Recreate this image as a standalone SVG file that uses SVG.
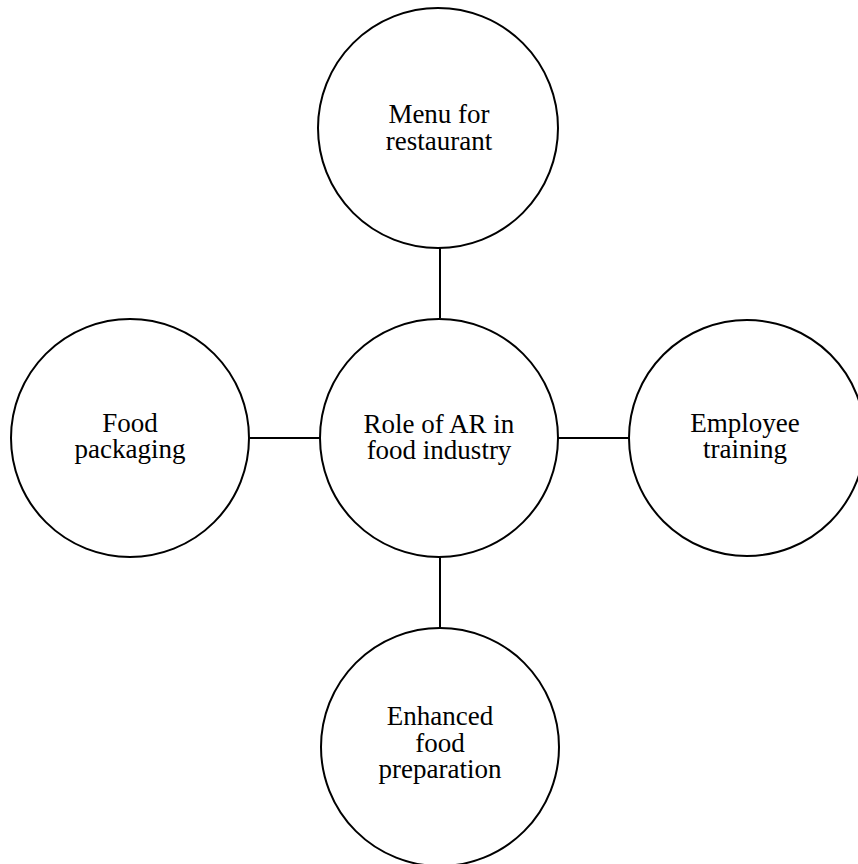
<svg xmlns="http://www.w3.org/2000/svg" width="858" height="864" viewBox="0 0 858 864">
  <style>
    .node { fill: #ffffff; stroke: #000000; stroke-width: 2; }
    .link { stroke: #000000; stroke-width: 2; fill: none; }
    .label { font-family: "Liberation Serif", "Times New Roman", serif; font-size: 27px; fill: #000000; text-anchor: middle; }
  </style>
  <rect width="858" height="864" fill="#ffffff"/>
  <g id="connectors">
    <line class="link" x1="440" y1="247" x2="440" y2="318"/>
    <line class="link" x1="250" y1="438" x2="320" y2="438"/>
    <line class="link" x1="558" y1="438" x2="629" y2="438"/>
    <line class="link" x1="440" y1="557" x2="440" y2="628"/>
  </g>
  <g id="node-menu">
    <circle class="node" cx="438" cy="128" r="120"/>
    <text class="label" x="439" y="123">Menu for</text>
    <text class="label" x="439" y="150">restaurant</text>
  </g>
  <g id="node-center">
    <circle class="node" cx="439" cy="438" r="119"/>
    <text class="label" x="439" y="433">Role of AR in</text>
    <text class="label" x="439" y="459">food industry</text>
  </g>
  <g id="node-packaging">
    <circle class="node" cx="130" cy="438" r="119"/>
    <text class="label" x="130" y="432">Food</text>
    <text class="label" x="130" y="458">packaging</text>
  </g>
  <g id="node-training">
    <circle class="node" cx="747" cy="438" r="118"/>
    <text class="label" x="745" y="432">Employee</text>
    <text class="label" x="745" y="458">training</text>
  </g>
  <g id="node-preparation">
    <circle class="node" cx="440" cy="747" r="119"/>
    <text class="label" x="440" y="725">Enhanced</text>
    <text class="label" x="440" y="752">food</text>
    <text class="label" x="440" y="778">preparation</text>
  </g>
</svg>
